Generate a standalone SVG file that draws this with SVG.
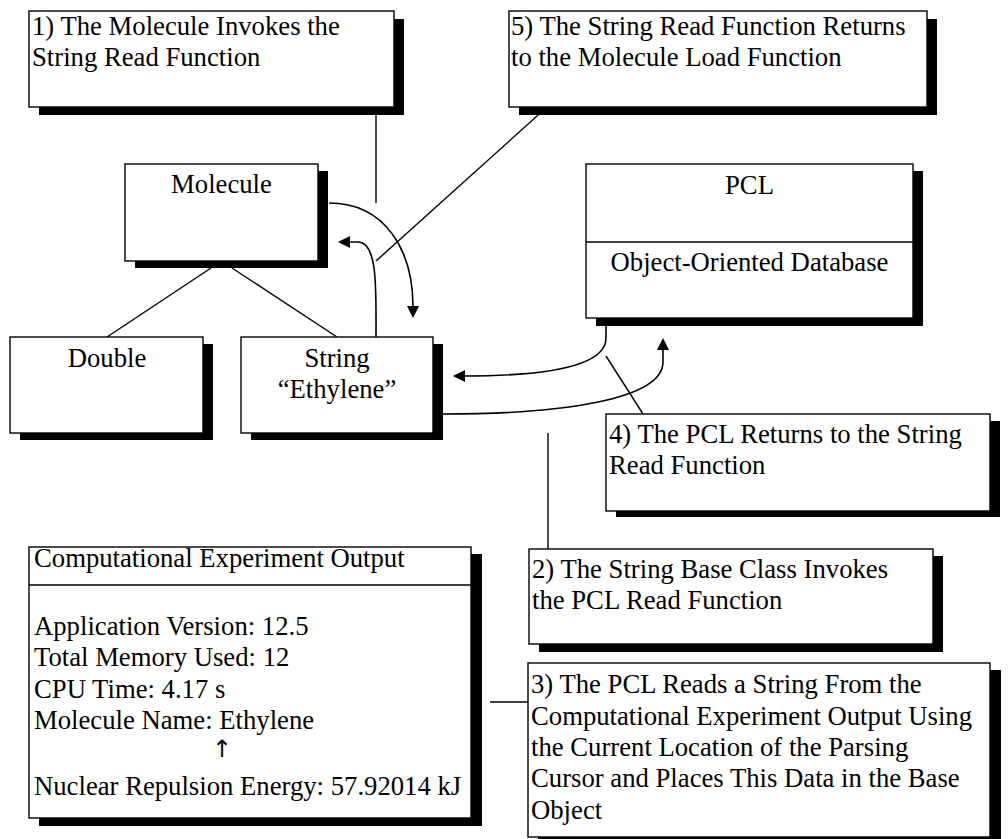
<svg xmlns="http://www.w3.org/2000/svg" width="1008" height="839" viewBox="0 0 1008 839">
  <style>
    .box { fill: #fff; stroke: #000; stroke-width: 1.4; }
    .shadow { fill: #000; stroke: none; }
    .div { stroke: #000; stroke-width: 1.4; }
    .t { font-family: "Liberation Serif", "Times New Roman", serif; font-size: 26.7px; fill: #000; }
    .c { text-anchor: middle; }
    .link { fill: none; stroke: #000; stroke-width: 1.4; }
    .flow { fill: none; stroke: #000; stroke-width: 1.6; marker-end: url(#head); }
  </style>
  <defs>
    <marker id="head" viewBox="0 0 12 12" refX="1" refY="6" markerWidth="12" markerHeight="12" markerUnits="userSpaceOnUse" orient="auto">
      <path d="M0,0 L12,6 L0,12 z" fill="#000"/>
    </marker>
  </defs>
  <rect width="1008" height="839" fill="#fff"/>

  <!-- connectors -->
  <g id="connectors">
    <!-- callout leaders -->
    <line class="link" x1="376" y1="107" x2="376" y2="203"/>
    <line class="link" x1="547" y1="107" x2="376" y2="261"/>
    <line class="link" x1="606" y1="356" x2="643" y2="414"/>
    <line class="link" x1="548" y1="433" x2="548" y2="549"/>
    <line class="link" x1="490" y1="702" x2="528" y2="702"/>
    <!-- inheritance -->
    <line class="link" x1="211" y1="268" x2="107" y2="337"/>
    <line class="link" x1="232" y1="268" x2="337" y2="337"/>
    <!-- call flow -->
    <path class="flow" d="M329,203 C385,203 413,250 413,307"/>
    <path class="flow" d="M376,337 C376,290 378,242 358,242 L349,242"/>
    <path class="flow" d="M606,326 L606,338 C606,368 540,376 464,376"/>
    <path class="flow" d="M443,414 C560,414 663,400 663,362 L663,349"/>
  </g>

  <!-- step 1 -->
  <g id="step1">
    <rect class="shadow" x="39" y="19" width="365" height="96"/>
    <rect class="box" x="29" y="11" width="365" height="96"/>
    <text class="t" x="32" y="35">1) The Molecule Invokes the</text>
    <text class="t" x="32" y="66">String Read Function</text>
  </g>

  <!-- step 5 -->
  <g id="step5">
    <rect class="shadow" x="519" y="19" width="418" height="96"/>
    <rect class="box" x="509" y="11" width="418" height="96"/>
    <text class="t" x="511" y="35">5) The String Read Function Returns</text>
    <text class="t" x="511" y="66">to the Molecule Load Function</text>
  </g>

  <!-- Molecule -->
  <g id="molecule">
    <rect class="shadow" x="135" y="171" width="193" height="97"/>
    <rect class="box" x="125" y="164" width="193" height="97"/>
    <text class="t c" x="221.5" y="193">Molecule</text>
  </g>

  <!-- Double -->
  <g id="double">
    <rect class="shadow" x="20" y="344" width="193" height="96"/>
    <rect class="box" x="10" y="337" width="193" height="96"/>
    <text class="t c" x="107" y="367">Double</text>
  </g>

  <!-- String -->
  <g id="string">
    <rect class="shadow" x="251" y="344" width="192" height="96"/>
    <rect class="box" x="241" y="337" width="192" height="96"/>
    <text class="t c" x="337" y="367">String</text>
    <text class="t c" x="337" y="398">“Ethylene”</text>
  </g>

  <!-- PCL -->
  <g id="pcl">
    <rect class="shadow" x="596" y="171" width="327" height="155"/>
    <rect class="box" x="586" y="164" width="327" height="154"/>
    <line class="div" x1="586" y1="242" x2="913" y2="242"/>
    <text class="t c" x="749.5" y="194">PCL</text>
    <text class="t c" x="749.5" y="271">Object-Oriented Database</text>
  </g>

  <!-- step 4 -->
  <g id="step4">
    <rect class="shadow" x="616" y="421" width="384" height="96"/>
    <rect class="box" x="606" y="414" width="384" height="97"/>
    <text class="t" x="609" y="443">4) The PCL Returns to the String</text>
    <text class="t" x="609" y="474">Read Function</text>
  </g>

  <!-- step 2 -->
  <g id="step2">
    <rect class="shadow" x="539" y="556" width="404" height="96"/>
    <rect class="box" x="529" y="549" width="404" height="95"/>
    <text class="t" x="532" y="578">2) The String Base Class Invokes</text>
    <text class="t" x="532" y="609">the PCL Read Function</text>
  </g>

  <!-- step 3 -->
  <g id="step3">
    <rect class="shadow" x="538" y="670" width="463" height="180"/>
    <rect class="box" x="528" y="663" width="462" height="174"/>
    <text class="t" x="531" y="693">3) The PCL Reads a String From the</text>
    <text class="t" x="531" y="725">Computational Experiment Output Using</text>
    <text class="t" x="531" y="756">the Current Location of the Parsing</text>
    <text class="t" x="531" y="787">Cursor and Places This Data in the Base</text>
    <text class="t" x="531" y="819">Object</text>
  </g>

  <!-- experiment output -->
  <g id="output">
    <rect class="shadow" x="39" y="554" width="443" height="272"/>
    <rect class="box" x="29" y="547" width="442" height="271"/>
    <line class="div" x1="29" y1="585" x2="471" y2="585"/>
    <text class="t" x="34" y="567">Computational Experiment Output</text>
    <text class="t" x="34" y="635">Application Version: 12.5</text>
    <text class="t" x="34" y="666">Total Memory Used: 12</text>
    <text class="t" x="34" y="698">CPU Time: 4.17 s</text>
    <text class="t" x="34" y="729">Molecule Name: Ethylene</text>
    <text x="222" y="757" text-anchor="middle" font-family="DejaVu Sans, sans-serif" font-size="24px">↑</text>
    <text class="t" x="34" y="795">Nuclear Repulsion Energy: 57.92014 kJ</text>
  </g>
</svg>
